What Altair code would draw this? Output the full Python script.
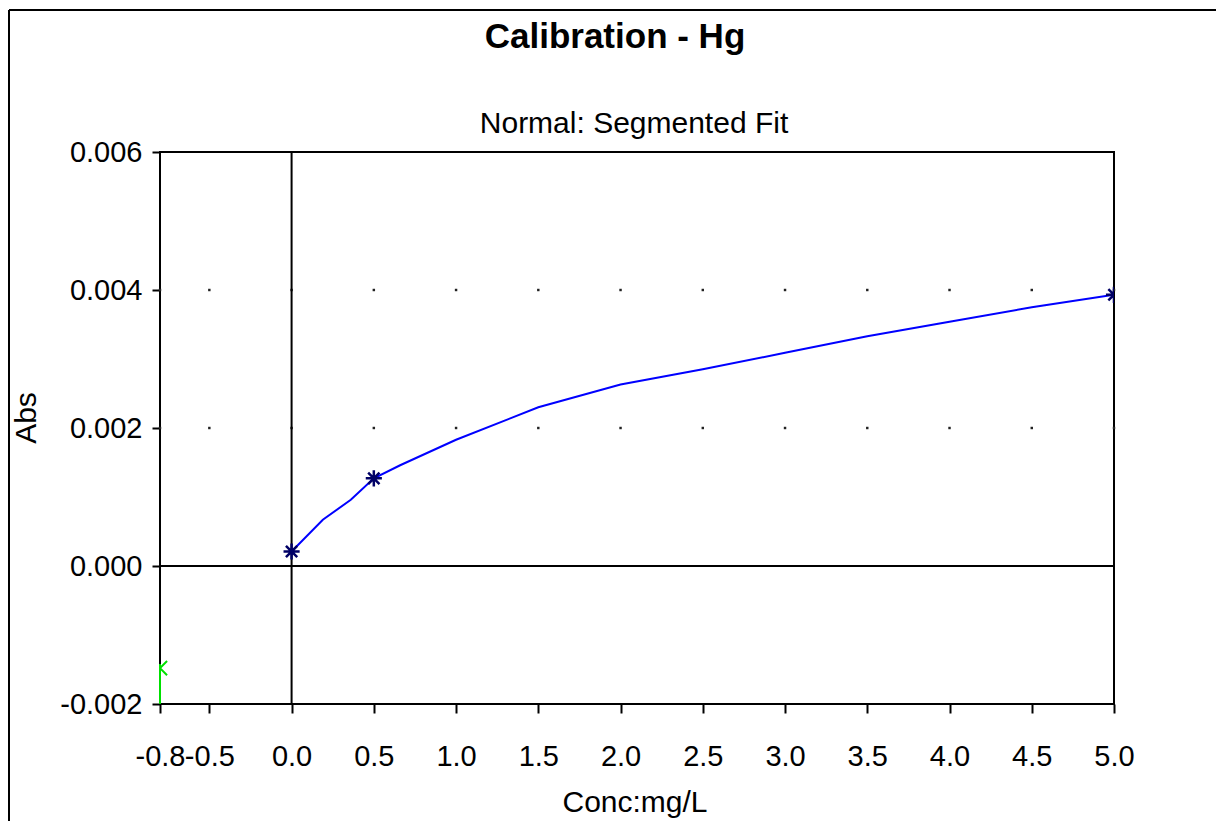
import altair as alt
import pandas as pd

# ---- data ----
x_ticks = [-0.8, -0.5, 0.0, 0.5, 1.0, 1.5, 2.0, 2.5, 3.0, 3.5, 4.0, 4.5, 5.0]
y_ticks = [-0.002, 0.0, 0.002, 0.004, 0.006]
grid_y = [0.002, 0.004]

std_conc = [0.0, 0.5, 5.0]
std_abs = [0.00021, 0.00127, 0.00393]

fit_conc = [0.0, 0.19, 0.36, 0.5, 0.66, 1.0, 1.5, 2.0, 2.5, 3.0, 3.5, 4.0, 4.5, 5.0]
fit_abs = [0.00021, 0.00067, 0.00096, 0.00127, 0.00146, 0.00183, 0.0023, 0.00263,
           0.00285, 0.00309, 0.00333, 0.00354, 0.00375, 0.00393]

blank_conc = [-0.8]
blank_abs = [-0.00148]
blank_low = [-0.002]
blank_high = [-0.00142]

title_text = "Calibration - Hg"
subtitle_text = "Normal: Segmented Fit"
x_title = "Conc:mg/L"
y_title = "Abs"

FONT = "Liberation Sans, Arial, sans-serif"

xs = alt.Scale(domain=[-0.8, 5.0], nice=False, zero=False)
ys = alt.Scale(domain=[-0.002, 0.006], nice=False, zero=False)

label_minus = "replace(datum.label, '\u2212', '-')"

x_axis = alt.Axis(
    values=x_ticks, format=".1f", labelExpr=label_minus, title=None,
    grid=False, domain=False, ticks=True, tickSize=9, tickWidth=2, tickColor="black",
    labelFont=FONT, labelFontSize=29, labelColor="black", labelPadding=29,
    labelOverlap=False, labelFlush=False)
y_axis = alt.Axis(
    values=y_ticks, format=".3f", labelExpr=label_minus, title=None,
    grid=False, domain=False, ticks=True, tickSize=8, tickWidth=2, tickColor="black",
    labelFont=FONT, labelFontSize=29, labelColor="black", labelPadding=10,
    labelOverlap=False, labelFlush=False)


def X(field="x"):
    return alt.X(f"{field}:Q", scale=xs, axis=x_axis)


def Y(field="y"):
    return alt.Y(f"{field}:Q", scale=ys, axis=y_axis)


std_df = pd.DataFrame({"x": std_conc, "y": std_abs})
fit_df = pd.DataFrame({"x": fit_conc, "y": fit_abs})
blank_df = pd.DataFrame({"x": blank_conc, "y": blank_abs, "y0": blank_low, "y1": blank_high})
grid_df = pd.DataFrame([{"x": gx, "y": gy} for gx in x_ticks for gy in grid_y])
one = pd.DataFrame({"a": [0]})
zero_df = pd.DataFrame({"x": [0.0], "y": [0.0]})

grid = alt.Chart(grid_df).mark_square(size=6, color="#222222", opacity=1).encode(x=X(), y=Y())

vzero = alt.Chart(zero_df).mark_rule(color="black", strokeWidth=2).encode(x=X())
hzero = alt.Chart(zero_df).mark_rule(color="black", strokeWidth=2).encode(y=Y())

fit_line = alt.Chart(fit_df).mark_line(color="#0000ff", strokeWidth=2, clip=True).encode(x=X(), y=Y())

ASTERISK = "M-1,0L1,0M0,-1L0,1M-0.7,-0.7L0.7,0.7M-0.7,0.7L0.7,-0.7"
stds = alt.Chart(std_df).mark_point(shape=ASTERISK, size=260, color="#000066",
                                    strokeWidth=2.5, filled=False, opacity=1, clip=True).encode(x=X(), y=Y())

blank_rule = alt.Chart(blank_df).mark_rule(color="#00e000", strokeWidth=2).encode(
    x=X(), y=Y("y0"), y2="y1:Q")
blank_pt = alt.Chart(blank_df).mark_point(shape="M-1,-1L1,1M-1,1L1,-1", size=200, color="#00e000",
                                          strokeWidth=2, filled=False, opacity=1, clip=True).encode(x=X(), y=Y())

title = alt.Chart(one).mark_text(text=title_text, font=FONT, fontSize=35, fontWeight="bold",
                                 color="black", align="center", baseline="alphabetic").encode(
    x=alt.value(455), y=alt.value(-104))
subtitle = alt.Chart(one).mark_text(text=subtitle_text, font=FONT, fontSize=30,
                                    color="black", align="center", baseline="alphabetic").encode(
    x=alt.value(474), y=alt.value(-19))
xlab = alt.Chart(one).mark_text(text=x_title, font=FONT, fontSize=30,
                                color="black", align="center", baseline="alphabetic").encode(
    x=alt.value(475), y=alt.value(660))
ylab = alt.Chart(one).mark_text(text=y_title, font=FONT, fontSize=30, angle=270,
                                color="black", align="center", baseline="alphabetic").encode(
    x=alt.value(-124), y=alt.value(266))

# outer frame around the whole figure
frame_left = alt.Chart(one).mark_rule(color="black", strokeWidth=2).encode(
    x=alt.value(-151), y=alt.value(-142), y2=alt.value(700))
frame_right = alt.Chart(one).mark_rule(color="black", strokeWidth=2).encode(
    x=alt.value(1060), y=alt.value(-142), y2=alt.value(700))
frame_top = alt.Chart(one).mark_rule(color="black", strokeWidth=2).encode(
    x=alt.value(-151), x2=alt.value(1060), y=alt.value(-142))

chart = alt.layer(
    grid, vzero, hzero, fit_line, stds, blank_rule, blank_pt,
    title, subtitle, xlab, ylab, frame_left, frame_right, frame_top
).properties(
    width=954, height=552,
    autosize=alt.AutoSizeParams(type="none"),
    padding={"left": 152, "top": 144, "right": 102, "bottom": 117},
    background="white",
).configure_view(stroke="black", strokeWidth=2)

chart.save("out.html", embed_options={"renderer": "svg", "actions": False})
